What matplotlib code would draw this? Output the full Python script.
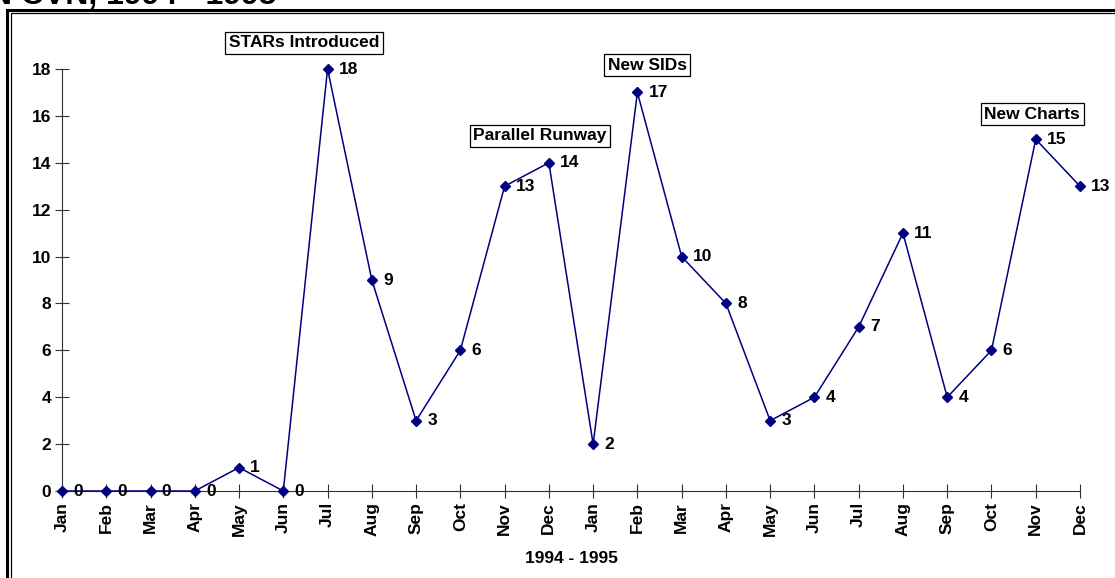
"""Monthly count line chart, 1994 - 1995, with event callouts."""

import matplotlib
matplotlib.use("Agg")
from matplotlib import pyplot as plt
from matplotlib.patches import Rectangle

# Data: two years of monthly counts
months = ["Jan", "Feb", "Mar", "Apr", "May", "Jun", "Jul", "Aug", "Sep", "Oct", "Nov", "Dec",
          "Jan", "Feb", "Mar", "Apr", "May", "Jun", "Jul", "Aug", "Sep", "Oct", "Nov", "Dec"]
counts = [0, 0, 0, 0, 1, 0, 18, 9, 3, 6, 13, 14,
          2, 17, 10, 8, 3, 4, 7, 11, 4, 6, 15, 13]

# Event callouts: (label, x position in months, y position in counts)
events = ["STARs Introduced", "Parallel Runway", "New SIDs", "New Charts"]
event_x = [5.47, 10.80, 13.22, 21.92]
event_y = [19.11, 15.15, 18.17, 16.08]

yticks = list(range(0, 19, 2))

plt.rcParams['font.family'] = ['Liberation Sans', 'DejaVu Sans']
plt.rcParams['font.weight'] = 'bold'

FS = 12.5

fig = plt.figure(figsize=(11.15, 5.78), dpi=100)
ax = fig.add_axes([62 / 1115, 87 / 578, (1080 - 62) / 1115, (491 - 69) / 578])

xs = list(range(len(counts)))
ax.plot(xs, counts, color="#000080", linewidth=1.1, marker="D", markersize=5,
        clip_on=False, zorder=3)

# value labels beside each point
for x, v in zip(xs, counts):
    ax.annotate(str(v), (x, v), xytext=(8, 0), textcoords="offset points",
                ha="left", va="center", fontsize=FS, fontweight="bold",
                annotation_clip=False, zorder=4)

# event boxes
for label, x, y in zip(events, event_x, event_y):
    ax.text(x, y, label, ha="center", va="center", fontsize=FS, fontweight="bold",
            clip_on=False,
            bbox=dict(boxstyle="square,pad=0.2", facecolor="white", edgecolor="black",
                      linewidth=0.9))

ax.set_xlim(0, len(counts) - 1)
ax.set_ylim(0, 18)
ax.set_xticks(xs)
ax.set_xticklabels(months, rotation=90, fontsize=FS, fontweight="bold")
ax.set_yticks(yticks)
ax.set_yticklabels([str(t) for t in yticks], fontsize=FS, fontweight="bold")
ax.tick_params(axis="both", direction="inout", length=10, width=0.8, color="#303030")
ax.tick_params(axis="y", pad=3)
ax.tick_params(axis="x", pad=3)

for side in ["top", "right"]:
    ax.spines[side].set_visible(False)
for side in ["left", "bottom"]:
    ax.spines[side].set_color("#303030")
    ax.spines[side].set_linewidth(0.8)

ax.set_xlabel("1994 - 1995", fontsize=FS, fontweight="bold", labelpad=11)

# double border around the chart
W, H = 1115, 578
fig.patches.append(Rectangle((7 / W, -0.1), 1.2, (H - 10) / H + 0.1,
                             transform=fig.transFigure, fill=False,
                             edgecolor="black", linewidth=2.2))
fig.patches.append(Rectangle((11 / W, -0.1), 1.2, (H - 13.5) / H + 0.1,
                             transform=fig.transFigure, fill=False,
                             edgecolor="black", linewidth=0.9))

# title running off the top edge
fig.text(277 / W, 1 - 4 / H, "IN CVN, 1994 - 1995", ha="right", va="baseline",
         fontsize=23, fontweight="bold")

fig.savefig("out.png", dpi=100)
